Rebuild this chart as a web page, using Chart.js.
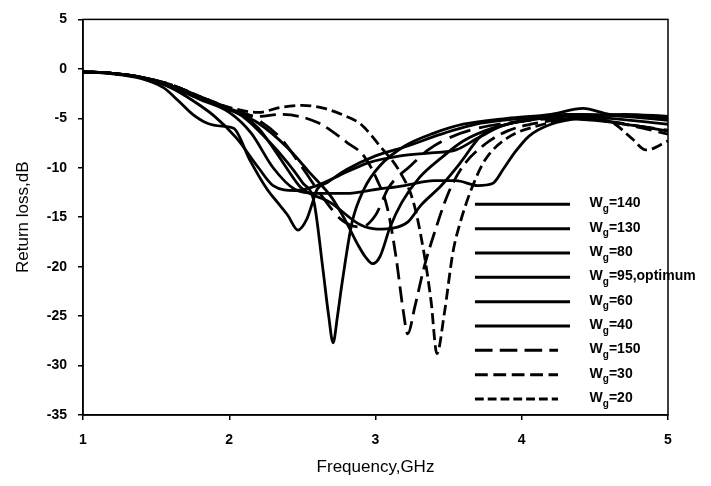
<!DOCTYPE html>
<html>
<head>
<meta charset="utf-8">
<script src="https://cdn.jsdelivr.net/npm/chart.js@4.4.1/dist/chart.umd.min.js"></script>
<style>
  body { margin: 0; background: #fff; }
  #wrap { width: 711px; height: 486px; }
</style>
</head>
<body>
<div id="wrap"><canvas id="myChart"></canvas></div>
<script>
// Datas (frequency in GHz, return loss in dB)
const xTicks = [1, 2, 3, 4, 5];
const yTicks = [5, 0, -5, -10, -15, -20, -25, -30, -35];

const labels = ["140", "130", "80", "95,optimum", "60", "40", "150", "30", "20"];

const freqW140 = [1.0,1.2,1.4,1.6,1.75,1.9,2.05,2.2,2.3,2.45,2.6,2.75,2.95,3.17,3.38,3.55,3.7,3.86,4.1,4.4,4.7,5.0];
const lossW140 = [-0.3,-0.45,-0.9,-1.9,-3.2,-4.8,-7.0,-10.0,-11.8,-12.3,-11.8,-10.8,-9.5,-8.8,-8.5,-8.2,-7.0,-5.8,-5.0,-4.6,-4.8,-5.2];

const freqW130 = [1.0,1.2,1.4,1.6,1.8,2.0,2.1,2.2,2.3,2.4,2.49,2.69,2.9,3.01,3.12,3.22,3.31,3.45,3.58,3.72,3.9,4.2,4.5,4.8,5.0];
const lossW130 = [-0.3,-0.45,-0.85,-1.7,-2.9,-4.1,-4.8,-6.0,-8.0,-10.2,-12.0,-13.5,-15.8,-16.2,-16.1,-15.5,-13.8,-11.8,-9.5,-6.8,-5.6,-5.0,-5.2,-5.8,-6.3];

const freqW80 = [1.0,1.2,1.4,1.6,1.8,2.0,2.2,2.4,2.55,2.7,2.8,2.88,2.93,2.98,3.03,3.1,3.18,3.3,3.45,3.6,3.8,4.0,4.3,4.6,5.0];
const lossW80 = [-0.3,-0.45,-0.85,-1.7,-2.9,-4.1,-5.5,-8.0,-10.5,-13.0,-15.5,-17.8,-19.0,-19.7,-19.0,-16.0,-13.5,-11.0,-9.0,-7.3,-6.0,-5.3,-4.8,-5.0,-5.6];

const freqW95 = [1.0,1.2,1.4,1.6,1.8,2.0,2.15,2.3,2.45,2.6,2.8,3.0,3.2,3.4,3.55,3.7,3.8,3.88,3.95,4.05,4.2,4.45,4.7,5.0];
const lossW95 = [-0.3,-0.45,-0.9,-1.8,-3.1,-4.4,-6.5,-10.0,-12.2,-12.6,-12.6,-12.2,-11.8,-11.3,-11.3,-11.8,-11.6,-10.0,-8.5,-6.8,-5.6,-4.9,-4.6,-4.8];

const freqW60 = [1.0,1.2,1.4,1.6,1.8,2.0,2.1,2.25,2.4,2.5,2.58,2.64,2.68,2.71,2.74,2.77,2.84,2.92,3.03,3.2,3.4,3.6,3.9,4.2,4.42,4.6,5.0];
const lossW60 = [-0.3,-0.45,-0.85,-1.7,-2.9,-4.1,-4.9,-7.0,-9.5,-11.5,-13.5,-20.2,-25.0,-27.7,-25.0,-21.8,-15.5,-12.2,-9.8,-7.8,-6.5,-5.6,-5.0,-4.6,-4.0,-4.6,-4.8];

const freqW40 = [1.0,1.2,1.4,1.55,1.65,1.75,1.85,1.95,2.03,2.14,2.26,2.33,2.4,2.47,2.53,2.57,2.6,2.67,2.8,3.0,3.22,3.45,3.72,4.0,4.3,4.6,5.0];
const lossW40 = [-0.3,-0.5,-1.0,-1.9,-3.2,-4.6,-5.5,-5.8,-6.0,-9.2,-12.2,-13.5,-14.8,-16.3,-15.2,-13.5,-12.2,-11.5,-10.2,-8.8,-7.8,-6.6,-5.5,-5.0,-4.6,-4.7,-5.0];

const freqW150 = [1.0,1.2,1.4,1.6,1.8,2.0,2.2,2.35,2.5,2.65,2.77,2.9,3.0,3.09,3.24,3.36,3.5,3.7,4.0,4.3,4.6,4.8,5.0];
const lossW150 = [-0.3,-0.45,-0.85,-1.6,-2.8,-4.0,-5.2,-7.0,-10.0,-13.2,-15.3,-16.0,-14.8,-12.0,-9.8,-8.2,-7.0,-6.0,-5.3,-5.0,-5.3,-5.8,-6.2];

const freqW30 = [1.0,1.2,1.4,1.6,1.8,2.0,2.2,2.35,2.6,2.81,2.92,3.01,3.08,3.14,3.19,3.22,3.27,3.33,3.42,3.5,3.6,3.75,3.9,4.1,4.4,4.7,5.0];
const lossW30 = [-0.3,-0.45,-0.85,-1.6,-2.8,-4.0,-4.8,-4.6,-5.4,-7.5,-8.8,-11.2,-14.0,-19.0,-24.5,-26.8,-24.0,-20.2,-15.8,-12.5,-9.8,-7.6,-6.3,-5.5,-5.0,-5.6,-6.6];

const freqW20 = [1.0,1.2,1.4,1.6,1.8,2.0,2.2,2.35,2.5,2.65,2.8,2.9,3.03,3.17,3.26,3.33,3.38,3.42,3.47,3.53,3.58,3.66,3.75,3.9,4.1,4.4,4.6,4.75,4.85,5.0];
const lossW20 = [-0.3,-0.45,-0.85,-1.6,-2.8,-3.9,-4.4,-3.9,-3.7,-4.0,-4.8,-5.6,-7.8,-10.5,-13.5,-18.5,-23.5,-28.8,-24.8,-18.5,-15.5,-12.0,-9.2,-7.0,-5.8,-5.0,-5.3,-7.0,-8.2,-7.3];

const freqs = [freqW140, freqW130, freqW80, freqW95, freqW60, freqW40, freqW150, freqW30, freqW20];
const losses = [lossW140, lossW130, lossW80, lossW95, lossW60, lossW40, lossW150, lossW30, lossW20];
const dashes = [[], [], [], [], [], [], [22, 9], [16, 7], [11, 5]];

const font = '"Liberation Sans", Arial, sans-serif';

// legend with subscript g, drawn inside the plot
const wgLegend = {
  id: 'wgLegend',
  afterDraw(chart) {
    const {ctx, chartArea: a} = chart;
    const w = a.right - a.left, h = a.bottom - a.top;
    ctx.save();
    // box round the plot
    ctx.strokeStyle = '#000';
    ctx.lineWidth = 1.5;
    ctx.strokeRect(a.left, a.top, w, h);
    chart.data.datasets.forEach((ds, i) => {
      const y = a.top + h * (0.4675 + i * 0.0615);
      const x0 = a.left + w * 0.67;
      const x1 = a.left + w * (ds.borderDash.length ? 0.812 : 0.8325);
      ctx.setLineDash(ds.borderDash.map(d => d * 0.8));
      ctx.lineWidth = 3;
      ctx.beginPath();
      ctx.moveTo(x0, y);
      ctx.lineTo(x1, y);
      ctx.stroke();
      ctx.setLineDash([]);
      let tx = a.left + w * 0.866;
      ctx.fillStyle = '#000';
      ctx.textBaseline = 'middle';
      ctx.font = 'bold 14px ' + font;
      ctx.fillText('W', tx, y - 1);
      tx += ctx.measureText('W').width;
      ctx.font = 'bold 10px ' + font;
      ctx.fillText('g', tx, y + 5);
      tx += ctx.measureText('g').width;
      ctx.font = 'bold 14px ' + font;
      ctx.fillText('=' + labels[i], tx, y - 1);
    });
    ctx.restore();
  }
};

// the chart
const myChart = new Chart('myChart', {
  type: 'line',
  data: {
    datasets: labels.map((lab, i) => ({
      label: 'Wg=' + lab,
      data: freqs[i].map((f, j) => ({x: f, y: losses[i][j]})),
      borderColor: '#000',
      borderWidth: 2.8,
      borderDash: dashes[i],
      pointRadius: 0,
      fill: false,
      cubicInterpolationMode: 'monotone'
    }))
  },
  options: {
    responsive: true,
    maintainAspectRatio: false,
    animation: false,
    layout: { padding: { top: 15, right: 43, bottom: 0, left: 0 } },
    plugins: {
      legend: { display: false },
      tooltip: { enabled: false }
    },
    scales: {
      x: {
        type: 'linear',
        min: 1, max: 5,
        afterBuildTicks: s => { s.ticks = xTicks.map(v => ({value: v})); },
        afterFit: s => { s.height = 71; },
        grid: { drawOnChartArea: false, drawTicks: true, tickLength: 5, color: '#000', lineWidth: 1.5 },
        border: { color: '#000', width: 1.5 },
        ticks: { color: '#000', padding: 12, font: { family: font, size: 14, weight: 'bold' } },
        title: { display: true, text: 'Frequency,GHz', color: '#000', padding: { top: 0, bottom: 8 }, font: { family: font, size: 17 } }
      },
      y: {
        min: -35, max: 5,
        afterBuildTicks: s => { s.ticks = yTicks.map(v => ({value: v})); },
        afterFit: s => { s.width = 83; },
        grid: { drawOnChartArea: false, drawTicks: true, tickLength: 5, color: '#000', lineWidth: 1.5 },
        border: { color: '#000', width: 1.5 },
        ticks: { color: '#000', padding: 11, font: { family: font, size: 14, weight: 'bold' } },
        title: { display: true, text: 'Return loss,dB', color: '#000', padding: { top: 13, bottom: 0 }, font: { family: font, size: 17 } }
      }
    }
  },
  plugins: [wgLegend]
});
</script>
</body>
</html>
